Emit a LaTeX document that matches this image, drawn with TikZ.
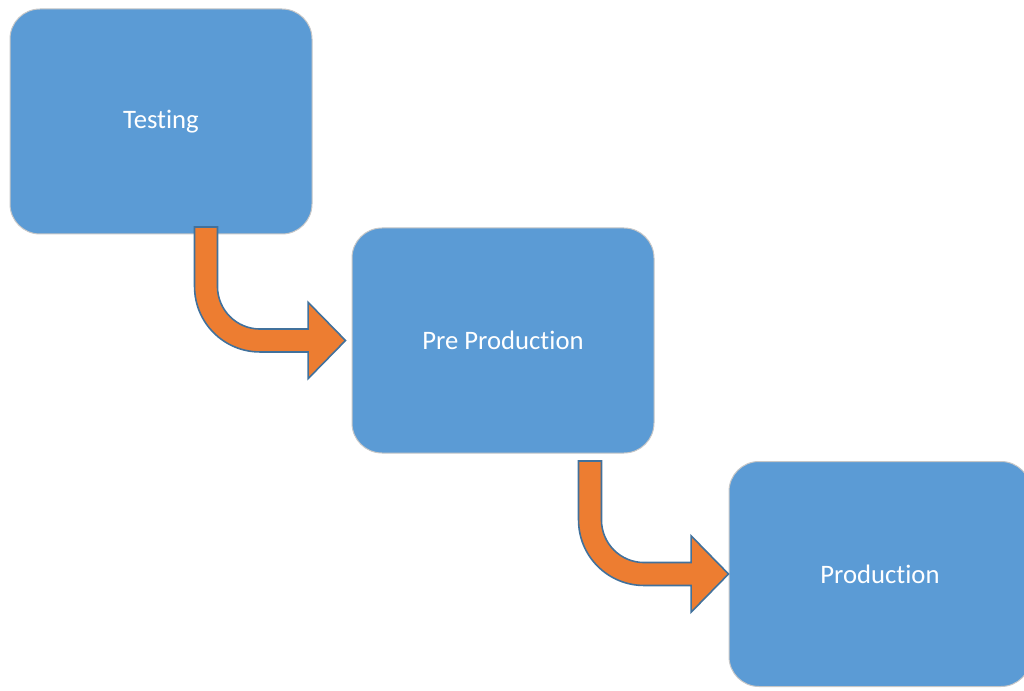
\documentclass[tikz,border=0pt]{standalone}
\usepackage{fontspec}
\setmainfont{Carlito}[Ligatures=CommonOff]
\usetikzlibrary{calc}
\definecolor{boxblue}{HTML}{5B9BD5}
\definecolor{arroworange}{HTML}{ED7D31}
\definecolor{arrowedge}{HTML}{41719C}
\tikzset{
	stage/.style={rectangle, rounded corners=22.5pt, minimum width=226.5pt, minimum height=168.75pt,
		fill=boxblue, draw=black!22, line width=0.75pt, text=white, font=\fontsize{20}{24}\selectfont},
	flowarrow/.style={fill=arroworange, draw=arrowedge, line width=1.2pt, line join=miter}
}
\def\bentarrow(#1)(#2){\draw[flowarrow] let \p1=(#1), \p2=(#2) in
	(\x1-8.6pt,\y1) -- (\x1-8.6pt,\y2+40.5pt) arc[start angle=180,end angle=270,radius=49.1pt]
	-- (\x2-28pt,\y2-8.6pt) -- (\x2-28pt,\y2-28.6pt) -- (\x2,\y2) -- (\x2-28pt,\y2+28.6pt)
	-- (\x2-28pt,\y2+8.6pt) -- (\x1+40.5pt,\y2+8.6pt) arc[start angle=270,end angle=180,radius=31.9pt]
	-- (\x1+8.6pt,\y1) -- cycle;}

\begin{document}
\begin{tikzpicture}[x=0.75pt, y=-0.75pt]
			%%%%% START %%%%%
			\useasboundingbox (0, 0) rectangle (1024, 691);
			
			\node[stage] (testing) at (161, 121.5) {Testing};
			\node[stage] (preprod) at (503, 340.5) {Pre Production};
			\node[stage] (prod) at (880, 574) {Production};
			
			\coordinate (s1) at (206, 227);
			\coordinate (t1) at ($(preprod.west)+(-6, 0)$);
			\coordinate (s2) at (590, 461);
			
			\bentarrow(s1)(t1)
			\bentarrow(s2)(prod.west)
			
			%%%%% END %%%%%
\end{tikzpicture}
\end{document}
